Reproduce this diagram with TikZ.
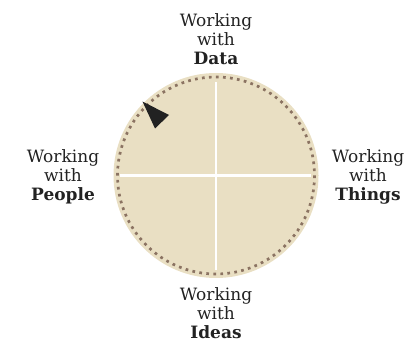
\documentclass[tikz,border=0pt]{standalone}
\usepackage{fontspec}
\setmainfont{DejaVu Serif}
\definecolor{disc}{HTML}{E9DFC3}
\definecolor{dotc}{HTML}{8B7362}
\definecolor{ink}{HTML}{222222}
\begin{document}
\begin{tikzpicture}[x=1pt,y=-1pt,
  lbl/.style={align=center,text=ink,font=\fontsize{17}{18.7}\selectfont,inner sep=0pt},
  divider/.style={white,line width=2.6pt}]
\useasboundingbox (0,0) rectangle (406,347);
\coordinate (c) at (216,175.5);
\fill[disc] (c) circle[radius=102.5];
\draw[dotc,line width=2.7pt,dash pattern=on 2.7pt off 4.333pt] (c) circle[radius=98.5];
\coordinate (l) at (120,175.5);
\coordinate (r) at (311,175.5);
\coordinate (t) at (216,82);
\coordinate (b) at (216,270);
\draw[divider] (l) -- (r);
\draw[divider] (t) -- (b);
\coordinate (p1) at (142.5,101.5);
\coordinate (p2) at (169,115);
\coordinate (p3) at (155,128.5);
\fill[ink] (p1) -- (p2) -- (p3) -- cycle;
\node[lbl] (data) at (216,39) {Working\\with\\\textbf{Data}};
\node[lbl] (people) at (63,177) {Working\\with\\\textbf{People}};
\node[lbl] (things) at (368,177) {Working\\with\\\textbf{Things}};
\node[lbl] (ideas) at (216,313) {Working\\with\\\textbf{Ideas}};
\end{tikzpicture}
\end{document}
